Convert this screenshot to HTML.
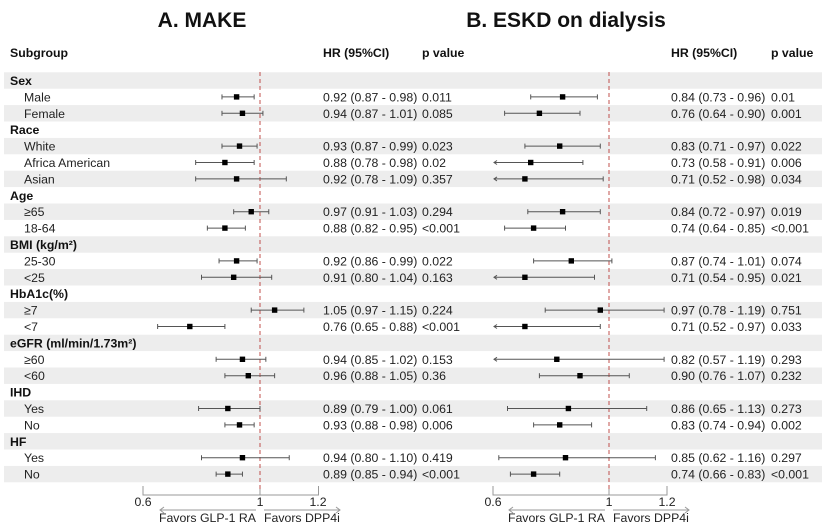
<!DOCTYPE html>
<html><head><meta charset="utf-8"><style>
body{margin:0;background:#fff}
svg{display:block;font-family:"Liberation Sans",Arial,sans-serif}
.t{font-size:12.3px;fill:#222}
.b{font-size:12.3px;font-weight:bold;fill:#111}
.h{font-size:21px;font-weight:bold;fill:#111}
</style></head><body>
<svg id="s" width="825" height="529" viewBox="0 0 825 529">
<g id="bands"></g>
<text class="h" x="202" y="27" text-anchor="middle">A. MAKE</text>
<text class="h" x="566" y="27" text-anchor="middle">B. ESKD on dialysis</text>
<text class="b" x="10" y="57">Subgroup</text>
<text class="b" x="323" y="57">HR (95%CI)</text>
<text class="b" x="422" y="57">p value</text>
<text class="b" x="671" y="57">HR (95%CI)</text>
<text class="b" x="771" y="57">p value</text>
<g id="txt"></g>
<line x1="260" y1="72" x2="260" y2="492" stroke="#c0504d" stroke-dasharray="4,3" stroke-width="1"/>
<line x1="609" y1="72" x2="609" y2="492" stroke="#c0504d" stroke-dasharray="4,3" stroke-width="1"/>
<g id="plot" stroke="#555" stroke-width="1"></g>
<g stroke="#999" fill="none" stroke-width="1">
<path d="M143,486V495H318.5V486M260,495V489"/>
<path d="M493,486V495H667V486M609,495V489"/>
<path d="M160,510H256M164,507L160,510L164,513M264,510H340M336,507L340,510L336,513"/>
<path d="M509,510H605M513,507L509,510L513,513M613,510H689M685,507L689,510L685,513"/>
</g>
<g class="t">
<text x="143" y="506" text-anchor="middle">0.6</text><text x="260" y="506" text-anchor="middle">1</text><text x="318" y="506" text-anchor="middle">1.2</text>
<text x="493" y="506" text-anchor="middle">0.6</text><text x="609" y="506" text-anchor="middle">1</text><text x="667" y="506" text-anchor="middle">1.2</text>
<text x="256" y="522" text-anchor="end">Favors GLP-1 RA</text><text x="264" y="522">Favors DPP4i</text>
<text x="605" y="522" text-anchor="end">Favors GLP-1 RA</text><text x="613" y="522">Favors DPP4i</text>
</g>
</svg>
<script>
var rows=[
["Sex"],["Male",.92,.87,.98,"0.92 (0.87 - 0.98)","0.011",.84,.73,.96,"0.84 (0.73 - 0.96)","0.01"],
["Female",.94,.87,1.01,"0.94 (0.87 - 1.01)","0.085",.76,.64,.90,"0.76 (0.64 - 0.90)","0.001"],
["Race"],["White",.93,.87,.99,"0.93 (0.87 - 0.99)","0.023",.83,.71,.97,"0.83 (0.71 - 0.97)","0.022"],
["Africa American",.88,.78,.98,"0.88 (0.78 - 0.98)","0.02",.73,.58,.91,"0.73 (0.58 - 0.91)","0.006"],
["Asian",.92,.78,1.09,"0.92 (0.78 - 1.09)","0.357",.71,.52,.98,"0.71 (0.52 - 0.98)","0.034"],
["Age"],["≥65",.97,.91,1.03,"0.97 (0.91 - 1.03)","0.294",.84,.72,.97,"0.84 (0.72 - 0.97)","0.019"],
["18-64",.88,.82,.95,"0.88 (0.82 - 0.95)","<0.001",.74,.64,.85,"0.74 (0.64 - 0.85)","<0.001"],
["BMI (kg/m²)"],["25-30",.92,.86,.99,"0.92 (0.86 - 0.99)","0.022",.87,.74,1.01,"0.87 (0.74 - 1.01)","0.074"],
["<25",.91,.80,1.04,"0.91 (0.80 - 1.04)","0.163",.71,.54,.95,"0.71 (0.54 - 0.95)","0.021"],
["HbA1c(%)"],["≥7",1.05,.97,1.15,"1.05 (0.97 - 1.15)","0.224",.97,.78,1.19,"0.97 (0.78 - 1.19)","0.751"],
["<7",.76,.65,.88,"0.76 (0.65 - 0.88)","<0.001",.71,.52,.97,"0.71 (0.52 - 0.97)","0.033"],
["eGFR (ml/min/1.73m²)"],["≥60",.94,.85,1.02,"0.94 (0.85 - 1.02)","0.153",.82,.57,1.19,"0.82 (0.57 - 1.19)","0.293"],
["<60",.96,.88,1.05,"0.96 (0.88 - 1.05)","0.36",.90,.76,1.07,"0.90 (0.76 - 1.07)","0.232"],
["IHD"],["Yes",.89,.79,1.00,"0.89 (0.79 - 1.00)","0.061",.86,.65,1.13,"0.86 (0.65 - 1.13)","0.273"],
["No",.93,.88,.98,"0.93 (0.88 - 0.98)","0.006",.83,.74,.94,"0.83 (0.74 - 0.94)","0.002"],
["HF"],["Yes",.94,.80,1.10,"0.94 (0.80 - 1.10)","0.419",.85,.62,1.16,"0.85 (0.62 - 1.16)","0.297"],
["No",.89,.85,.94,"0.89 (0.85 - 0.94)","<0.001",.74,.66,.83,"0.74 (0.66 - 0.83)","<0.001"]];
var NS="http://www.w3.org/2000/svg";
function el(p,n,a,t){var e=document.createElementNS(NS,n);for(var k in a)e.setAttribute(k,a[k]);if(t!=null)e.textContent=t;document.getElementById(p).appendChild(e);}
function lx(v){return 260+(v-1)*292.5}
function rx(v){return 609+(v-1)*290}
function ci(f,v,lo,hi,y){
 var a=f(lo),b=f(hi),c=f(v),arrow=false;
 if(f===rx&&lo<0.6){a=494;arrow=true}
 el("plot","line",{x1:a,y1:y,x2:b,y2:y});
 if(arrow)el("plot","path",{d:"M"+(a+3)+","+(y-2)+"L"+a+","+y+"L"+(a+3)+","+(y+2),fill:"none"});
 else el("plot","line",{x1:a,y1:y-2.5,x2:a,y2:y+2.5});
 el("plot","line",{x1:b,y1:y-2.5,x2:b,y2:y+2.5});
 el("plot","rect",{x:c-2.7,y:y-2.7,width:5.4,height:5.4,fill:"#000",stroke:"none"});
}
rows.forEach(function(r,i){
 var y=80.5+16.4*i;
 if(i%2==0)el("bands","rect",{x:4,y:y-8.2,width:818,height:16.4,fill:"#ededed"});
 if(r.length==1){el("txt","text",{x:10,y:y+4.5,"class":"b"},r[0]);return;}
 el("txt","text",{x:24,y:y+4.5,"class":"t"},r[0]);
 el("txt","text",{x:323,y:y+4.5,"class":"t"},r[4]);
 el("txt","text",{x:422,y:y+4.5,"class":"t"},r[5]);
 el("txt","text",{x:671,y:y+4.5,"class":"t"},r[9]);
 el("txt","text",{x:771,y:y+4.5,"class":"t"},r[10]);
 ci(lx,r[1],r[2],r[3],y);ci(rx,r[6],r[7],r[8],y);
});
</script>
</body></html>
